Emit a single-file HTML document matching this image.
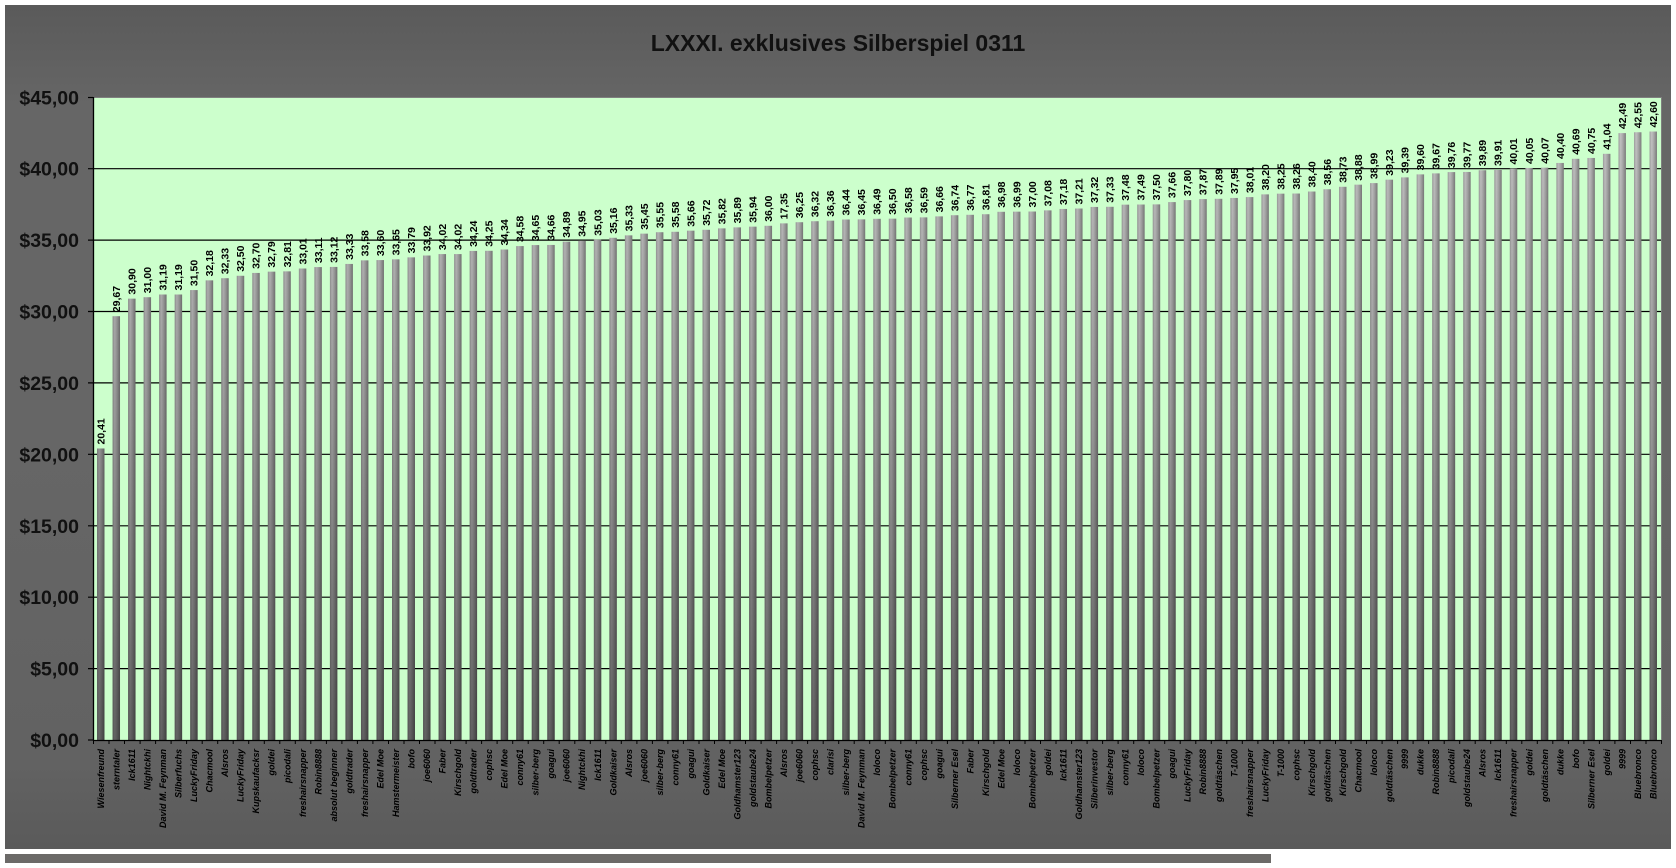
<!DOCTYPE html>
<html><head><meta charset="utf-8"><style>
html,body{margin:0;padding:0;background:#fff;}
svg{display:block;}
.dl{font-family:"Liberation Sans",Arial,sans-serif;font-weight:bold;font-size:10.5px;fill:#000;}
.cl{font-family:"Liberation Sans",Arial,sans-serif;font-weight:bold;font-style:italic;font-size:9px;fill:#000;}
.yl{font-family:"Liberation Sans",Arial,sans-serif;font-weight:bold;font-size:19.5px;fill:#111;}
</style></head><body>
<svg width="1676" height="868" viewBox="0 0 1676 868" xmlns="http://www.w3.org/2000/svg">
<defs>
<linearGradient id="bg" x1="0" y1="0" x2="0" y2="1">
<stop offset="0" stop-color="#5a5a5a"/><stop offset="0.12" stop-color="#666666"/><stop offset="0.5" stop-color="#666666"/><stop offset="0.9" stop-color="#626262"/><stop offset="1" stop-color="#5a5a5a"/>
</linearGradient>
<linearGradient id="hg" x1="0" y1="0" x2="1" y2="0">
<stop offset="0" stop-color="#a0a0a0"/><stop offset="0.28" stop-color="#c6c6c6"/><stop offset="0.6" stop-color="#ababab"/><stop offset="1" stop-color="#7e7e7e"/>
</linearGradient>
<linearGradient id="vg" gradientUnits="userSpaceOnUse" x1="0" y1="0" x2="0" y2="45">
<stop offset="0" stop-color="#000" stop-opacity="0.5"/><stop offset="0.5" stop-color="#000" stop-opacity="0.22"/><stop offset="1" stop-color="#000" stop-opacity="0"/>
</linearGradient>
<g id="bars">
<rect x="0.26" y="0" width="0.48" height="20.41"/>
<rect x="1.26" y="0" width="0.48" height="29.67"/>
<rect x="2.26" y="0" width="0.48" height="30.90"/>
<rect x="3.26" y="0" width="0.48" height="31.00"/>
<rect x="4.26" y="0" width="0.48" height="31.19"/>
<rect x="5.26" y="0" width="0.48" height="31.19"/>
<rect x="6.26" y="0" width="0.48" height="31.50"/>
<rect x="7.26" y="0" width="0.48" height="32.18"/>
<rect x="8.26" y="0" width="0.48" height="32.33"/>
<rect x="9.26" y="0" width="0.48" height="32.50"/>
<rect x="10.26" y="0" width="0.48" height="32.70"/>
<rect x="11.26" y="0" width="0.48" height="32.79"/>
<rect x="12.26" y="0" width="0.48" height="32.81"/>
<rect x="13.26" y="0" width="0.48" height="33.01"/>
<rect x="14.26" y="0" width="0.48" height="33.11"/>
<rect x="15.26" y="0" width="0.48" height="33.12"/>
<rect x="16.26" y="0" width="0.48" height="33.33"/>
<rect x="17.26" y="0" width="0.48" height="33.58"/>
<rect x="18.26" y="0" width="0.48" height="33.60"/>
<rect x="19.26" y="0" width="0.48" height="33.65"/>
<rect x="20.26" y="0" width="0.48" height="33.79"/>
<rect x="21.26" y="0" width="0.48" height="33.92"/>
<rect x="22.26" y="0" width="0.48" height="34.02"/>
<rect x="23.26" y="0" width="0.48" height="34.02"/>
<rect x="24.26" y="0" width="0.48" height="34.24"/>
<rect x="25.26" y="0" width="0.48" height="34.25"/>
<rect x="26.26" y="0" width="0.48" height="34.34"/>
<rect x="27.26" y="0" width="0.48" height="34.58"/>
<rect x="28.26" y="0" width="0.48" height="34.65"/>
<rect x="29.26" y="0" width="0.48" height="34.66"/>
<rect x="30.26" y="0" width="0.48" height="34.89"/>
<rect x="31.26" y="0" width="0.48" height="34.95"/>
<rect x="32.26" y="0" width="0.48" height="35.03"/>
<rect x="33.26" y="0" width="0.48" height="35.16"/>
<rect x="34.26" y="0" width="0.48" height="35.33"/>
<rect x="35.26" y="0" width="0.48" height="35.45"/>
<rect x="36.26" y="0" width="0.48" height="35.55"/>
<rect x="37.26" y="0" width="0.48" height="35.58"/>
<rect x="38.26" y="0" width="0.48" height="35.66"/>
<rect x="39.26" y="0" width="0.48" height="35.72"/>
<rect x="40.26" y="0" width="0.48" height="35.82"/>
<rect x="41.26" y="0" width="0.48" height="35.89"/>
<rect x="42.26" y="0" width="0.48" height="35.94"/>
<rect x="43.26" y="0" width="0.48" height="36.00"/>
<rect x="44.26" y="0" width="0.48" height="36.17"/>
<rect x="45.26" y="0" width="0.48" height="36.25"/>
<rect x="46.26" y="0" width="0.48" height="36.32"/>
<rect x="47.26" y="0" width="0.48" height="36.36"/>
<rect x="48.26" y="0" width="0.48" height="36.44"/>
<rect x="49.26" y="0" width="0.48" height="36.45"/>
<rect x="50.26" y="0" width="0.48" height="36.49"/>
<rect x="51.26" y="0" width="0.48" height="36.50"/>
<rect x="52.26" y="0" width="0.48" height="36.58"/>
<rect x="53.26" y="0" width="0.48" height="36.59"/>
<rect x="54.26" y="0" width="0.48" height="36.66"/>
<rect x="55.26" y="0" width="0.48" height="36.74"/>
<rect x="56.26" y="0" width="0.48" height="36.77"/>
<rect x="57.26" y="0" width="0.48" height="36.81"/>
<rect x="58.26" y="0" width="0.48" height="36.98"/>
<rect x="59.26" y="0" width="0.48" height="36.99"/>
<rect x="60.26" y="0" width="0.48" height="37.00"/>
<rect x="61.26" y="0" width="0.48" height="37.08"/>
<rect x="62.26" y="0" width="0.48" height="37.18"/>
<rect x="63.26" y="0" width="0.48" height="37.21"/>
<rect x="64.26" y="0" width="0.48" height="37.32"/>
<rect x="65.26" y="0" width="0.48" height="37.33"/>
<rect x="66.26" y="0" width="0.48" height="37.48"/>
<rect x="67.26" y="0" width="0.48" height="37.49"/>
<rect x="68.26" y="0" width="0.48" height="37.50"/>
<rect x="69.26" y="0" width="0.48" height="37.66"/>
<rect x="70.26" y="0" width="0.48" height="37.80"/>
<rect x="71.26" y="0" width="0.48" height="37.87"/>
<rect x="72.26" y="0" width="0.48" height="37.89"/>
<rect x="73.26" y="0" width="0.48" height="37.95"/>
<rect x="74.26" y="0" width="0.48" height="38.01"/>
<rect x="75.26" y="0" width="0.48" height="38.20"/>
<rect x="76.26" y="0" width="0.48" height="38.25"/>
<rect x="77.26" y="0" width="0.48" height="38.26"/>
<rect x="78.26" y="0" width="0.48" height="38.40"/>
<rect x="79.26" y="0" width="0.48" height="38.56"/>
<rect x="80.26" y="0" width="0.48" height="38.73"/>
<rect x="81.26" y="0" width="0.48" height="38.88"/>
<rect x="82.26" y="0" width="0.48" height="38.99"/>
<rect x="83.26" y="0" width="0.48" height="39.23"/>
<rect x="84.26" y="0" width="0.48" height="39.39"/>
<rect x="85.26" y="0" width="0.48" height="39.60"/>
<rect x="86.26" y="0" width="0.48" height="39.67"/>
<rect x="87.26" y="0" width="0.48" height="39.76"/>
<rect x="88.26" y="0" width="0.48" height="39.77"/>
<rect x="89.26" y="0" width="0.48" height="39.89"/>
<rect x="90.26" y="0" width="0.48" height="39.91"/>
<rect x="91.26" y="0" width="0.48" height="40.01"/>
<rect x="92.26" y="0" width="0.48" height="40.05"/>
<rect x="93.26" y="0" width="0.48" height="40.07"/>
<rect x="94.26" y="0" width="0.48" height="40.40"/>
<rect x="95.26" y="0" width="0.48" height="40.69"/>
<rect x="96.26" y="0" width="0.48" height="40.75"/>
<rect x="97.26" y="0" width="0.48" height="41.04"/>
<rect x="98.26" y="0" width="0.48" height="42.49"/>
<rect x="99.26" y="0" width="0.48" height="42.55"/>
<rect x="100.26" y="0" width="0.48" height="42.60"/>
</g>
</defs>

<!-- outer chart area -->
<rect x="5" y="5" width="1666" height="844" fill="url(#bg)"/>
<rect x="5" y="854" width="1266" height="9" fill="#6c6a68"/>

<!-- title -->
<text x="838" y="51" text-anchor="middle" font-family="Liberation Sans, Arial, sans-serif" font-weight="bold" font-size="23" fill="#111">LXXXI. exklusives Silberspiel 0311</text>

<!-- plot area -->
<rect x="93" y="97" width="1568" height="643" fill="#ccffcc"/>
<line x1="93" y1="97.5" x2="1661" y2="97.5" stroke="#7f7f7f" stroke-width="1"/>
<line x1="1661.5" y1="97" x2="1661.5" y2="740" stroke="#7f7f7f" stroke-width="1"/>

<!-- gridlines -->
<g stroke="#000" stroke-width="1.2">
<line x1="88" y1="668.6" x2="1661" y2="668.6"/>
<line x1="88" y1="597.2" x2="1661" y2="597.2"/>
<line x1="88" y1="525.8" x2="1661" y2="525.8"/>
<line x1="88" y1="454.3" x2="1661" y2="454.3"/>
<line x1="88" y1="382.9" x2="1661" y2="382.9"/>
<line x1="88" y1="311.5" x2="1661" y2="311.5"/>
<line x1="88" y1="240.1" x2="1661" y2="240.1"/>
<line x1="88" y1="168.7" x2="1661" y2="168.7"/>
<line x1="88" y1="97.5" x2="93" y2="97.5"/>
<line x1="88" y1="740" x2="93" y2="740"/>
</g>

<!-- bars -->
<use href="#bars" fill="url(#hg)" transform="translate(93,740) scale(15.5248,-14.2833)"/>
<use href="#bars" fill="url(#vg)" transform="translate(93,740) scale(15.5248,-14.2833)"/>

<!-- axes -->
<line x1="93.5" y1="97" x2="93.5" y2="741" stroke="#000" stroke-width="1.3"/>
<line x1="93" y1="740.5" x2="1661" y2="740.5" stroke="#000" stroke-width="1.3"/>
<g stroke="#000" stroke-width="1">
<path d="M93.5 740v4M109.0 740v4M124.5 740v4M140.1 740v4M155.6 740v4M171.1 740v4M186.6 740v4M202.2 740v4M217.7 740v4M233.2 740v4M248.7 740v4M264.3 740v4M279.8 740v4M295.3 740v4M310.8 740v4M326.4 740v4M341.9 740v4M357.4 740v4M372.9 740v4M388.5 740v4M404.0 740v4M419.5 740v4M435.0 740v4M450.6 740v4M466.1 740v4M481.6 740v4M497.1 740v4M512.7 740v4M528.2 740v4M543.7 740v4M559.2 740v4M574.8 740v4M590.3 740v4M605.8 740v4M621.3 740v4M636.9 740v4M652.4 740v4M667.9 740v4M683.4 740v4M699.0 740v4M714.5 740v4M730.0 740v4M745.5 740v4M761.1 740v4M776.6 740v4M792.1 740v4M807.6 740v4M823.2 740v4M838.7 740v4M854.2 740v4M869.7 740v4M885.3 740v4M900.8 740v4M916.3 740v4M931.8 740v4M947.4 740v4M962.9 740v4M978.4 740v4M993.9 740v4M1009.5 740v4M1025.0 740v4M1040.5 740v4M1056.0 740v4M1071.6 740v4M1087.1 740v4M1102.6 740v4M1118.1 740v4M1133.7 740v4M1149.2 740v4M1164.7 740v4M1180.2 740v4M1195.8 740v4M1211.3 740v4M1226.8 740v4M1242.3 740v4M1257.9 740v4M1273.4 740v4M1288.9 740v4M1304.4 740v4M1320.0 740v4M1335.5 740v4M1351.0 740v4M1366.5 740v4M1382.1 740v4M1397.6 740v4M1413.1 740v4M1428.6 740v4M1444.2 740v4M1459.7 740v4M1475.2 740v4M1490.7 740v4M1506.3 740v4M1521.8 740v4M1537.3 740v4M1552.8 740v4M1568.4 740v4M1583.9 740v4M1599.4 740v4M1614.9 740v4M1630.5 740v4M1646.0 740v4M1661.5 740v4"/>
</g>

<!-- y axis labels -->
<g class="yl" text-anchor="end">
<text x="79" y="104.5">$45,00</text>
<text x="79" y="175.5">$40,00</text>
<text x="79" y="247">$35,00</text>
<text x="79" y="318.5">$30,00</text>
<text x="79" y="390">$25,00</text>
<text x="79" y="461.5">$20,00</text>
<text x="79" y="533">$15,00</text>
<text x="79" y="604">$10,00</text>
<text x="79" y="675.5">$5,00</text>
<text x="79" y="747">$0,00</text>
</g>

<!-- data labels -->
<g class="dl">
<text transform="translate(104.5,444.5) rotate(-90)">20,41</text>
<text transform="translate(120.0,312.2) rotate(-90)">29,67</text>
<text transform="translate(135.5,294.6) rotate(-90)">30,90</text>
<text transform="translate(151.0,293.2) rotate(-90)">31,00</text>
<text transform="translate(166.6,290.5) rotate(-90)">31,19</text>
<text transform="translate(182.1,290.5) rotate(-90)">31,19</text>
<text transform="translate(197.6,286.1) rotate(-90)">31,50</text>
<text transform="translate(213.1,276.4) rotate(-90)">32,18</text>
<text transform="translate(228.7,274.2) rotate(-90)">32,33</text>
<text transform="translate(244.2,271.8) rotate(-90)">32,50</text>
<text transform="translate(259.7,268.9) rotate(-90)">32,70</text>
<text transform="translate(275.2,267.6) rotate(-90)">32,79</text>
<text transform="translate(290.8,267.4) rotate(-90)">32,81</text>
<text transform="translate(306.3,264.5) rotate(-90)">33,01</text>
<text transform="translate(321.8,263.1) rotate(-90)">33,11</text>
<text transform="translate(337.3,262.9) rotate(-90)">33,12</text>
<text transform="translate(352.9,259.9) rotate(-90)">33,33</text>
<text transform="translate(368.4,256.4) rotate(-90)">33,58</text>
<text transform="translate(383.9,256.1) rotate(-90)">33,60</text>
<text transform="translate(399.4,255.4) rotate(-90)">33,65</text>
<text transform="translate(415.0,253.4) rotate(-90)">33,79</text>
<text transform="translate(430.5,251.5) rotate(-90)">33,92</text>
<text transform="translate(446.0,250.1) rotate(-90)">34,02</text>
<text transform="translate(461.5,250.1) rotate(-90)">34,02</text>
<text transform="translate(477.1,246.9) rotate(-90)">34,24</text>
<text transform="translate(492.6,246.8) rotate(-90)">34,25</text>
<text transform="translate(508.1,245.5) rotate(-90)">34,34</text>
<text transform="translate(523.6,242.1) rotate(-90)">34,58</text>
<text transform="translate(539.2,241.1) rotate(-90)">34,65</text>
<text transform="translate(554.7,240.9) rotate(-90)">34,66</text>
<text transform="translate(570.2,237.7) rotate(-90)">34,89</text>
<text transform="translate(585.7,236.8) rotate(-90)">34,95</text>
<text transform="translate(601.3,235.7) rotate(-90)">35,03</text>
<text transform="translate(616.8,233.8) rotate(-90)">35,16</text>
<text transform="translate(632.3,231.4) rotate(-90)">35,33</text>
<text transform="translate(647.8,229.7) rotate(-90)">35,45</text>
<text transform="translate(663.4,228.2) rotate(-90)">35,55</text>
<text transform="translate(678.9,227.8) rotate(-90)">35,58</text>
<text transform="translate(694.4,226.7) rotate(-90)">35,66</text>
<text transform="translate(709.9,225.8) rotate(-90)">35,72</text>
<text transform="translate(725.5,224.4) rotate(-90)">35,82</text>
<text transform="translate(741.0,223.4) rotate(-90)">35,89</text>
<text transform="translate(756.5,222.7) rotate(-90)">35,94</text>
<text transform="translate(772.0,221.8) rotate(-90)">36,00</text>
<text transform="translate(787.6,219.4) rotate(-90)">17,35</text>
<text transform="translate(803.1,218.2) rotate(-90)">36,25</text>
<text transform="translate(818.6,217.2) rotate(-90)">36,32</text>
<text transform="translate(834.1,216.7) rotate(-90)">36,36</text>
<text transform="translate(849.7,215.5) rotate(-90)">36,44</text>
<text transform="translate(865.2,215.4) rotate(-90)">36,45</text>
<text transform="translate(880.7,214.8) rotate(-90)">36,49</text>
<text transform="translate(896.2,214.7) rotate(-90)">36,50</text>
<text transform="translate(911.8,213.5) rotate(-90)">36,58</text>
<text transform="translate(927.3,213.4) rotate(-90)">36,59</text>
<text transform="translate(942.8,212.4) rotate(-90)">36,66</text>
<text transform="translate(958.3,211.2) rotate(-90)">36,74</text>
<text transform="translate(973.9,210.8) rotate(-90)">36,77</text>
<text transform="translate(989.4,210.2) rotate(-90)">36,81</text>
<text transform="translate(1004.9,207.8) rotate(-90)">36,98</text>
<text transform="translate(1020.4,207.7) rotate(-90)">36,99</text>
<text transform="translate(1036.0,207.5) rotate(-90)">37,00</text>
<text transform="translate(1051.5,206.4) rotate(-90)">37,08</text>
<text transform="translate(1067.0,205.0) rotate(-90)">37,18</text>
<text transform="translate(1082.5,204.5) rotate(-90)">37,21</text>
<text transform="translate(1098.1,203.0) rotate(-90)">37,32</text>
<text transform="translate(1113.6,202.8) rotate(-90)">37,33</text>
<text transform="translate(1129.1,200.7) rotate(-90)">37,48</text>
<text transform="translate(1144.6,200.5) rotate(-90)">37,49</text>
<text transform="translate(1160.2,200.4) rotate(-90)">37,50</text>
<text transform="translate(1175.7,198.1) rotate(-90)">37,66</text>
<text transform="translate(1191.2,196.1) rotate(-90)">37,80</text>
<text transform="translate(1206.7,195.1) rotate(-90)">37,87</text>
<text transform="translate(1222.3,194.8) rotate(-90)">37,89</text>
<text transform="translate(1237.8,194.0) rotate(-90)">37,95</text>
<text transform="translate(1253.3,193.1) rotate(-90)">38,01</text>
<text transform="translate(1268.8,190.4) rotate(-90)">38,20</text>
<text transform="translate(1284.4,189.7) rotate(-90)">38,25</text>
<text transform="translate(1299.9,189.5) rotate(-90)">38,26</text>
<text transform="translate(1315.4,187.5) rotate(-90)">38,40</text>
<text transform="translate(1330.9,185.2) rotate(-90)">38,56</text>
<text transform="translate(1346.5,182.8) rotate(-90)">38,73</text>
<text transform="translate(1362.0,180.7) rotate(-90)">38,88</text>
<text transform="translate(1377.5,179.1) rotate(-90)">38,99</text>
<text transform="translate(1393.0,175.7) rotate(-90)">39,23</text>
<text transform="translate(1408.6,173.4) rotate(-90)">39,39</text>
<text transform="translate(1424.1,170.4) rotate(-90)">39,60</text>
<text transform="translate(1439.6,169.4) rotate(-90)">39,67</text>
<text transform="translate(1455.1,168.1) rotate(-90)">39,76</text>
<text transform="translate(1470.7,168.0) rotate(-90)">39,77</text>
<text transform="translate(1486.2,166.2) rotate(-90)">39,89</text>
<text transform="translate(1501.7,166.0) rotate(-90)">39,91</text>
<text transform="translate(1517.2,164.5) rotate(-90)">40,01</text>
<text transform="translate(1532.8,164.0) rotate(-90)">40,05</text>
<text transform="translate(1548.3,163.7) rotate(-90)">40,07</text>
<text transform="translate(1563.8,159.0) rotate(-90)">40,40</text>
<text transform="translate(1579.3,154.8) rotate(-90)">40,69</text>
<text transform="translate(1594.9,154.0) rotate(-90)">40,75</text>
<text transform="translate(1610.4,149.8) rotate(-90)">41,04</text>
<text transform="translate(1625.9,129.1) rotate(-90)">42,49</text>
<text transform="translate(1641.4,128.3) rotate(-90)">42,55</text>
<text transform="translate(1657.0,127.5) rotate(-90)">42,60</text>
</g>

<!-- category labels -->
<g class="cl" text-anchor="end">
<text transform="translate(104.0,749) rotate(-90)">Wiesenfreund</text>
<text transform="translate(119.5,749) rotate(-90)">sterntaler</text>
<text transform="translate(135.0,749) rotate(-90)">Ick1611</text>
<text transform="translate(150.5,749) rotate(-90)">Nightckhi</text>
<text transform="translate(166.1,749) rotate(-90)">David M. Feynman</text>
<text transform="translate(181.6,749) rotate(-90)">Silberfuchs</text>
<text transform="translate(197.1,749) rotate(-90)">LuckyFriday</text>
<text transform="translate(212.6,749) rotate(-90)">Chacmool</text>
<text transform="translate(228.2,749) rotate(-90)">Alsros</text>
<text transform="translate(243.7,749) rotate(-90)">LuckyFriday</text>
<text transform="translate(259.2,749) rotate(-90)">Kupskaufacksr</text>
<text transform="translate(274.7,749) rotate(-90)">goldei</text>
<text transform="translate(290.3,749) rotate(-90)">picodali</text>
<text transform="translate(305.8,749) rotate(-90)">freshairsnapper</text>
<text transform="translate(321.3,749) rotate(-90)">Robin8888</text>
<text transform="translate(336.8,749) rotate(-90)">absolut beginner</text>
<text transform="translate(352.4,749) rotate(-90)">goldtrader</text>
<text transform="translate(367.9,749) rotate(-90)">freshairsnapper</text>
<text transform="translate(383.4,749) rotate(-90)">Edel Moe</text>
<text transform="translate(398.9,749) rotate(-90)">Hamstermeister</text>
<text transform="translate(414.5,749) rotate(-90)">bofo</text>
<text transform="translate(430.0,749) rotate(-90)">joe6060</text>
<text transform="translate(445.5,749) rotate(-90)">Faber</text>
<text transform="translate(461.0,749) rotate(-90)">Kirschgold</text>
<text transform="translate(476.6,749) rotate(-90)">goldtrader</text>
<text transform="translate(492.1,749) rotate(-90)">cophsc</text>
<text transform="translate(507.6,749) rotate(-90)">Edel Moe</text>
<text transform="translate(523.1,749) rotate(-90)">conny61</text>
<text transform="translate(538.7,749) rotate(-90)">silber-berg</text>
<text transform="translate(554.2,749) rotate(-90)">goagui</text>
<text transform="translate(569.7,749) rotate(-90)">joe6060</text>
<text transform="translate(585.2,749) rotate(-90)">Nightckhi</text>
<text transform="translate(600.8,749) rotate(-90)">Ick1611</text>
<text transform="translate(616.3,749) rotate(-90)">Goldkaiser</text>
<text transform="translate(631.8,749) rotate(-90)">Alsros</text>
<text transform="translate(647.3,749) rotate(-90)">joe6060</text>
<text transform="translate(662.9,749) rotate(-90)">silber-berg</text>
<text transform="translate(678.4,749) rotate(-90)">conny61</text>
<text transform="translate(693.9,749) rotate(-90)">goagui</text>
<text transform="translate(709.4,749) rotate(-90)">Goldkaiser</text>
<text transform="translate(725.0,749) rotate(-90)">Edel Moe</text>
<text transform="translate(740.5,749) rotate(-90)">Goldhamster123</text>
<text transform="translate(756.0,749) rotate(-90)">goldstaube24</text>
<text transform="translate(771.5,749) rotate(-90)">Bombelpetzer</text>
<text transform="translate(787.1,749) rotate(-90)">Alsros</text>
<text transform="translate(802.6,749) rotate(-90)">joe6060</text>
<text transform="translate(818.1,749) rotate(-90)">cophsc</text>
<text transform="translate(833.6,749) rotate(-90)">clarisi</text>
<text transform="translate(849.2,749) rotate(-90)">silber-berg</text>
<text transform="translate(864.7,749) rotate(-90)">David M. Feynman</text>
<text transform="translate(880.2,749) rotate(-90)">loloco</text>
<text transform="translate(895.7,749) rotate(-90)">Bombelpetzer</text>
<text transform="translate(911.3,749) rotate(-90)">conny61</text>
<text transform="translate(926.8,749) rotate(-90)">cophsc</text>
<text transform="translate(942.3,749) rotate(-90)">goagui</text>
<text transform="translate(957.8,749) rotate(-90)">Silberner Esel</text>
<text transform="translate(973.4,749) rotate(-90)">Faber</text>
<text transform="translate(988.9,749) rotate(-90)">Kirschgold</text>
<text transform="translate(1004.4,749) rotate(-90)">Edel Moe</text>
<text transform="translate(1019.9,749) rotate(-90)">loloco</text>
<text transform="translate(1035.5,749) rotate(-90)">Bombelpetzer</text>
<text transform="translate(1051.0,749) rotate(-90)">goldei</text>
<text transform="translate(1066.5,749) rotate(-90)">Ick1611</text>
<text transform="translate(1082.0,749) rotate(-90)">Goldhamster123</text>
<text transform="translate(1097.6,749) rotate(-90)">Silberinvestor</text>
<text transform="translate(1113.1,749) rotate(-90)">silber-berg</text>
<text transform="translate(1128.6,749) rotate(-90)">conny61</text>
<text transform="translate(1144.1,749) rotate(-90)">loloco</text>
<text transform="translate(1159.7,749) rotate(-90)">Bombelpetzer</text>
<text transform="translate(1175.2,749) rotate(-90)">goagui</text>
<text transform="translate(1190.7,749) rotate(-90)">LuckyFriday</text>
<text transform="translate(1206.2,749) rotate(-90)">Robin8888</text>
<text transform="translate(1221.8,749) rotate(-90)">goldtäschen</text>
<text transform="translate(1237.3,749) rotate(-90)">T-1000</text>
<text transform="translate(1252.8,749) rotate(-90)">freshairsnapper</text>
<text transform="translate(1268.3,749) rotate(-90)">LuckyFriday</text>
<text transform="translate(1283.9,749) rotate(-90)">T-1000</text>
<text transform="translate(1299.4,749) rotate(-90)">cophsc</text>
<text transform="translate(1314.9,749) rotate(-90)">Kirschgold</text>
<text transform="translate(1330.4,749) rotate(-90)">goldtäschen</text>
<text transform="translate(1346.0,749) rotate(-90)">Kirschgold</text>
<text transform="translate(1361.5,749) rotate(-90)">Chacmool</text>
<text transform="translate(1377.0,749) rotate(-90)">loloco</text>
<text transform="translate(1392.5,749) rotate(-90)">goldtäschen</text>
<text transform="translate(1408.1,749) rotate(-90)">9999</text>
<text transform="translate(1423.6,749) rotate(-90)">dukke</text>
<text transform="translate(1439.1,749) rotate(-90)">Robin8888</text>
<text transform="translate(1454.6,749) rotate(-90)">picodali</text>
<text transform="translate(1470.2,749) rotate(-90)">goldstaube24</text>
<text transform="translate(1485.7,749) rotate(-90)">Alsros</text>
<text transform="translate(1501.2,749) rotate(-90)">Ick1611</text>
<text transform="translate(1516.7,749) rotate(-90)">freshairsnapper</text>
<text transform="translate(1532.3,749) rotate(-90)">goldei</text>
<text transform="translate(1547.8,749) rotate(-90)">goldtäschen</text>
<text transform="translate(1563.3,749) rotate(-90)">dukke</text>
<text transform="translate(1578.8,749) rotate(-90)">bofo</text>
<text transform="translate(1594.4,749) rotate(-90)">Silberner Esel</text>
<text transform="translate(1609.9,749) rotate(-90)">goldei</text>
<text transform="translate(1625.4,749) rotate(-90)">9999</text>
<text transform="translate(1640.9,749) rotate(-90)">Bluebronco</text>
<text transform="translate(1656.5,749) rotate(-90)">Bluebronco</text>
</g>
</svg>
</body></html>
